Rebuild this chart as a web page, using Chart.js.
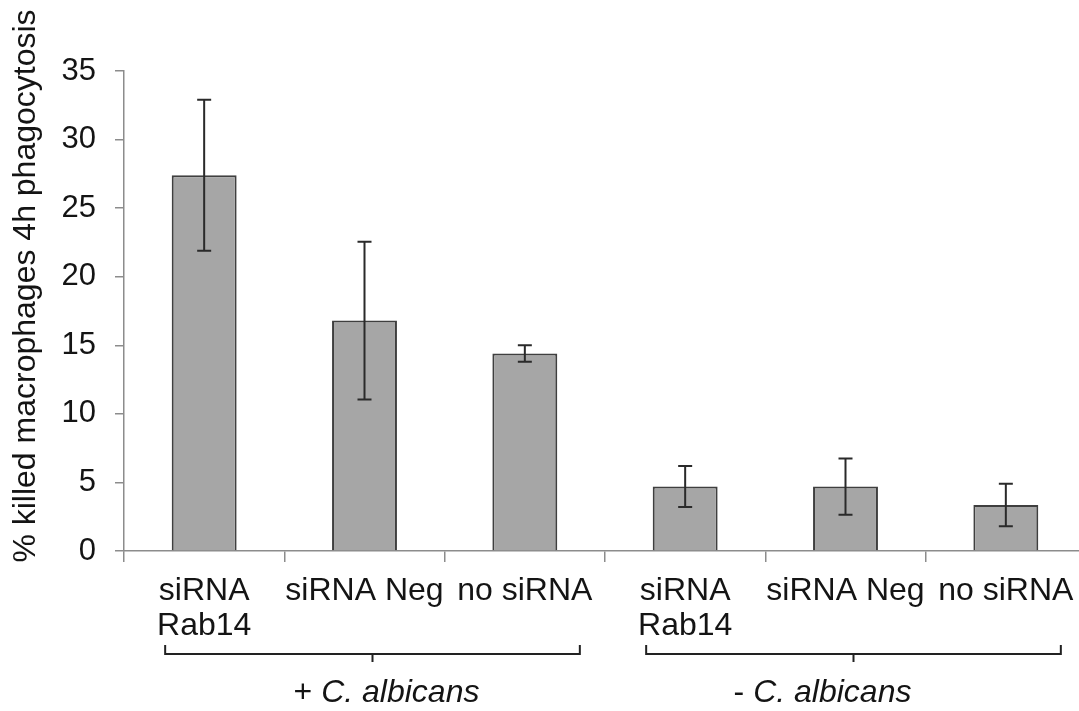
<!DOCTYPE html>
<html>
<head>
<meta charset="utf-8">
<script src="https://cdn.jsdelivr.net/npm/chart.js@4.4.1/dist/chart.umd.min.js"></script>
<style>
    html, body { margin: 0; padding: 0; background: #fff; overflow: hidden; }
    #wrap { width: 1086px; height: 711px; position: relative; }
</style>
</head>
<body>
<div id="wrap"><canvas id="killChart"></canvas></div>
<script>
// bar categories (multi-line labels) and values
const categories = [['siRNA', 'Rab14'], 'siRNA Neg', 'no siRNA', ['siRNA', 'Rab14'], 'siRNA Neg', 'no siRNA'];
const killedPct = [27.4, 16.8, 14.4, 4.7, 4.7, 3.35];
const errPct = [5.5, 5.75, 0.6, 1.5, 2.05, 1.55];
const groupNames = [['+ ', 'C. albicans'], ['- ', 'C. albicans']];
const groupMembers = [[0, 2], [3, 5]];
const yTitle = '% killed macrophages 4h phagocytosis';

const fontFamily = '"Liberation Sans", Arial, sans-serif';
const axisGrey = '#8c8c8c';
const textColor = '#141414';

// error bars drawn over each bar
const errorBarPlugin = {
    id: 'errorBars',
    afterDatasetsDraw(chart) {
        const ctx = chart.ctx;
        const yScale = chart.scales.y;
        const meta = chart.getDatasetMeta(0);
        ctx.save();
        ctx.strokeStyle = '#2a2a2a';
        ctx.lineWidth = 2;
        meta.data.forEach(function (bar, i) {
            const top = yScale.getPixelForValue(killedPct[i] + errPct[i]);
            const bottom = yScale.getPixelForValue(killedPct[i] - errPct[i]);
            const x = bar.x;
            ctx.beginPath();
            ctx.moveTo(x, top);
            ctx.lineTo(x, bottom);
            ctx.moveTo(x - 7, top);
            ctx.lineTo(x + 7, top);
            ctx.moveTo(x - 7, bottom);
            ctx.lineTo(x + 7, bottom);
            ctx.stroke();
        });
        ctx.restore();
    }
};

// brackets under the category labels, group names, rotated y title
const groupPlugin = {
    id: 'groups',
    afterDraw(chart, args, opts) {
        const ctx = chart.ctx;
        const xScale = chart.scales.x;
        ctx.save();
        ctx.strokeStyle = '#222';
        ctx.lineWidth = 2;
        ctx.fillStyle = textColor;
        groupMembers.forEach(function (m, g) {
            const left = xScale.getPixelForValue(m[0]) - 39;
            const right = xScale.getPixelForValue(m[1]) + 55;
            const mid = (left + right) / 2;
            ctx.beginPath();
            ctx.moveTo(left, 645);
            ctx.lineTo(left, 654);
            ctx.lineTo(right, 654);
            ctx.lineTo(right, 645);
            ctx.moveTo(mid, 654);
            ctx.lineTo(mid, 662);
            ctx.stroke();

            const plain = '32px ' + fontFamily;
            const ital = 'italic 32px ' + fontFamily;
            ctx.font = plain;
            const w1 = ctx.measureText(groupNames[g][0]).width;
            ctx.font = ital;
            const w2 = ctx.measureText(groupNames[g][1]).width;
            const cx = mid + opts.labelShift[g];
            let x = cx - (w1 + w2) / 2;
            ctx.textBaseline = 'middle';
            ctx.textAlign = 'left';
            ctx.font = plain;
            ctx.fillText(groupNames[g][0], x, 693);
            ctx.font = ital;
            ctx.fillText(groupNames[g][1], x + w1, 693);
        });

        ctx.translate(26, 286);
        ctx.rotate(-Math.PI / 2);
        ctx.font = '32px ' + fontFamily;
        ctx.textAlign = 'center';
        ctx.textBaseline = 'middle';
        ctx.fillText(yTitle, 0, 0);
        ctx.restore();
    }
};

new Chart('killChart', {
    type: 'bar',
    data: {
        labels: categories,
        datasets: [{
            data: killedPct,
            backgroundColor: '#a6a6a6',
            borderColor: '#3f3f3f',
            borderWidth: 2,
            categoryPercentage: 1,
            barPercentage: 0.405
        }]
    },
    options: {
        responsive: true,
        maintainAspectRatio: false,
        animation: false,
        layout: { padding: { top: 71, left: 0, right: 0, bottom: 0 } },
        plugins: {
            legend: { display: false },
            tooltip: { enabled: false },
            groups: { labelShift: [14, -31] }
        },
        scales: {
            x: {
                grid: {
                    offset: true,
                    drawOnChartArea: false,
                    tickLength: 11,
                    color: axisGrey,
                    lineWidth: 1.5
                },
                border: { color: axisGrey, width: 1.5 },
                ticks: {
                    color: textColor,
                    font: { family: fontFamily, size: 32, lineHeight: 1.11 },
                    padding: 11,
                    maxRotation: 0,
                    autoSkip: false
                },
                afterFit(scale) { scale.height = 160; }
            },
            y: {
                min: 0,
                max: 35,
                grid: {
                    drawOnChartArea: false,
                    tickLength: 9,
                    color: axisGrey,
                    lineWidth: 1.5
                },
                border: { color: axisGrey, width: 1.5 },
                ticks: {
                    stepSize: 5,
                    color: textColor,
                    font: { family: fontFamily, size: 31 },
                    padding: 19
                },
                afterFit(scale) { scale.width = 124; }
            }
        }
    },
    plugins: [errorBarPlugin, groupPlugin]
});
</script>
</body>
</html>
